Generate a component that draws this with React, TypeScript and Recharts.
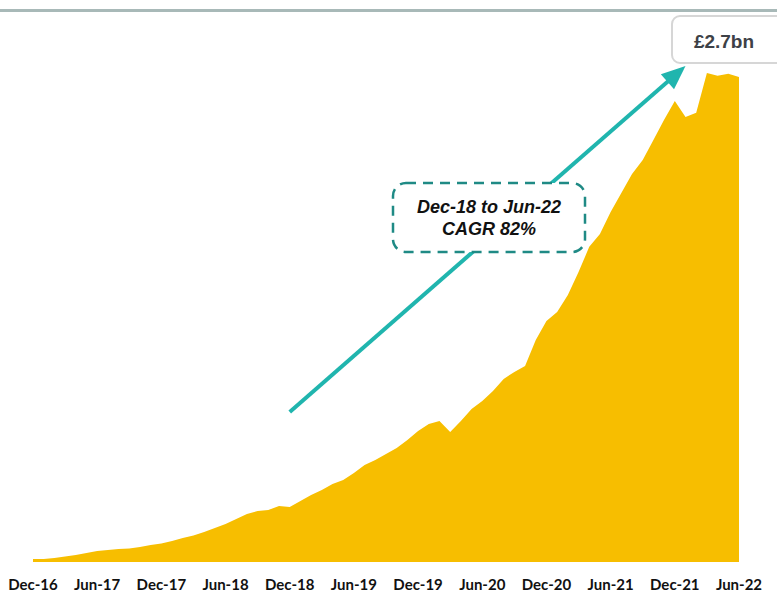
import { Area, AreaChart, ReferenceLine, XAxis, YAxis } from 'recharts'

const months = [
  'Dec-16',
  'Jan-17', 'Feb-17', 'Mar-17', 'Apr-17', 'May-17', 'Jun-17', 'Jul-17', 'Aug-17', 'Sep-17', 'Oct-17', 'Nov-17', 'Dec-17',
  'Jan-18', 'Feb-18', 'Mar-18', 'Apr-18', 'May-18', 'Jun-18', 'Jul-18', 'Aug-18', 'Sep-18', 'Oct-18', 'Nov-18', 'Dec-18',
  'Jan-19', 'Feb-19', 'Mar-19', 'Apr-19', 'May-19', 'Jun-19', 'Jul-19', 'Aug-19', 'Sep-19', 'Oct-19', 'Nov-19', 'Dec-19',
  'Jan-20', 'Feb-20', 'Mar-20', 'Apr-20', 'May-20', 'Jun-20', 'Jul-20', 'Aug-20', 'Sep-20', 'Oct-20', 'Nov-20', 'Dec-20',
  'Jan-21', 'Feb-21', 'Mar-21', 'Apr-21', 'May-21', 'Jun-21', 'Jul-21', 'Aug-21', 'Sep-21', 'Oct-21', 'Nov-21', 'Dec-21',
  'Jan-22', 'Feb-22', 'Mar-22', 'Apr-22', 'May-22', 'Jun-22',
]

// balance, £m
const balance = [
  17,
  17, 22, 31, 39, 50, 61, 67, 72, 75, 84, 95, 103,
  117, 134, 148, 167, 189, 212, 239, 267, 284, 290, 312, 306,
  340, 373, 401, 434, 457, 495, 540, 568, 601, 635, 679, 729,
  768, 785, 724, 785, 852, 896, 952, 1019, 1058, 1091, 1236, 1342,
  1392, 1486, 1614, 1754, 1826, 1948, 2054, 2160, 2238, 2349, 2461, 2566,
  2477, 2500, 2722, 2706, 2717, 2700,
]

const tickLabels = [
  'Dec-16', 'Jun-17', 'Dec-17', 'Jun-18', 'Dec-18', 'Jun-19',
  'Dec-19', 'Jun-20', 'Dec-20', 'Jun-21', 'Dec-21', 'Jun-22',
]

const arrowFrom = { x: 'Dec-18', y: 835 }
const arrowTo = { x: 'Jan-22', y: 2761 }

const data = months.map((month, i) => ({ month, value: balance[i] }))

const TEAL = '#20b5ae'

function Arrow(props: any) {
  const { x1, y1, x2, y2 } = props
  const dx = x2 - x1
  const dy = y2 - y1
  const len = Math.hypot(dx, dy)
  const ux = dx / len
  const uy = dy / len
  const head = 24
  const half = 10
  const bx = x2 - ux * head
  const by = y2 - uy * head
  const px = -uy
  const py = ux
  return (
    <g>
      <line x1={x1} y1={y1} x2={bx + ux * 2} y2={by + uy * 2} stroke={TEAL} strokeWidth={4} />
      <polygon
        points={`${x2},${y2} ${bx + px * half},${by + py * half} ${bx - px * half},${by - py * half}`}
        fill={TEAL}
      />
    </g>
  )
}

export default function App() {
  return (
    <div style={{ position: 'absolute', left: 0, top: 0, width: 777, height: 592, background: '#fff' }}>
      <div style={{ position: 'absolute', left: 0, top: 9, width: 777, height: 3, background: '#a8b9b8' }} />
      <AreaChart width={777} height={592} data={data} margin={{ top: 23, right: 38, bottom: 0, left: 33 }}>
        <XAxis
          dataKey="month"
          ticks={tickLabels}
          interval={0}
          axisLine={false}
          tickLine={false}
          tickMargin={11}
          height={30}
          tick={{ fill: '#111', fontSize: 15, fontWeight: 700, fontFamily: 'Lato, sans-serif' }}
        />
        <YAxis hide domain={[0, 3000]} />
        <Area
          type="linear"
          dataKey="value"
          fill="#f7be00"
          fillOpacity={1}
          stroke="none"
          isAnimationActive={false}
        />
        <ReferenceLine segment={[arrowFrom, arrowTo]} shape={<Arrow />} ifOverflow="visible" />
      </AreaChart>
      <svg
        width={777}
        height={592}
        style={{ position: 'absolute', left: 0, top: 0, pointerEvents: 'none' }}
      >
        <rect
          x={393}
          y={183}
          width={192}
          height={69}
          rx={13}
          fill="#fff"
          stroke="#1f8a85"
          strokeWidth={2.5}
          strokeDasharray="10 7"
        />
        <text
          x={489}
          textAnchor="middle"
          fontFamily="'Liberation Sans', Arial, sans-serif"
          fontWeight={700}
          fontStyle="italic"
          fontSize={18}
          fill="#111"
        >
          <tspan x={489} y={213}>Dec-18 to Jun-22</tspan>
          <tspan x={489} y={235}>CAGR 82%</tspan>
        </text>
        <rect x={672} y={16} width={120} height={47} rx={8} fill="#fff" stroke="#d6d6d6" strokeWidth={2} />
        <text
          x={724}
          y={48}
          textAnchor="middle"
          fontFamily="'Liberation Sans', Arial, sans-serif"
          fontWeight={700}
          fontSize={19}
          fill="#3d4147"
        >
          £2.7bn
        </text>
      </svg>
    </div>
  )
}
